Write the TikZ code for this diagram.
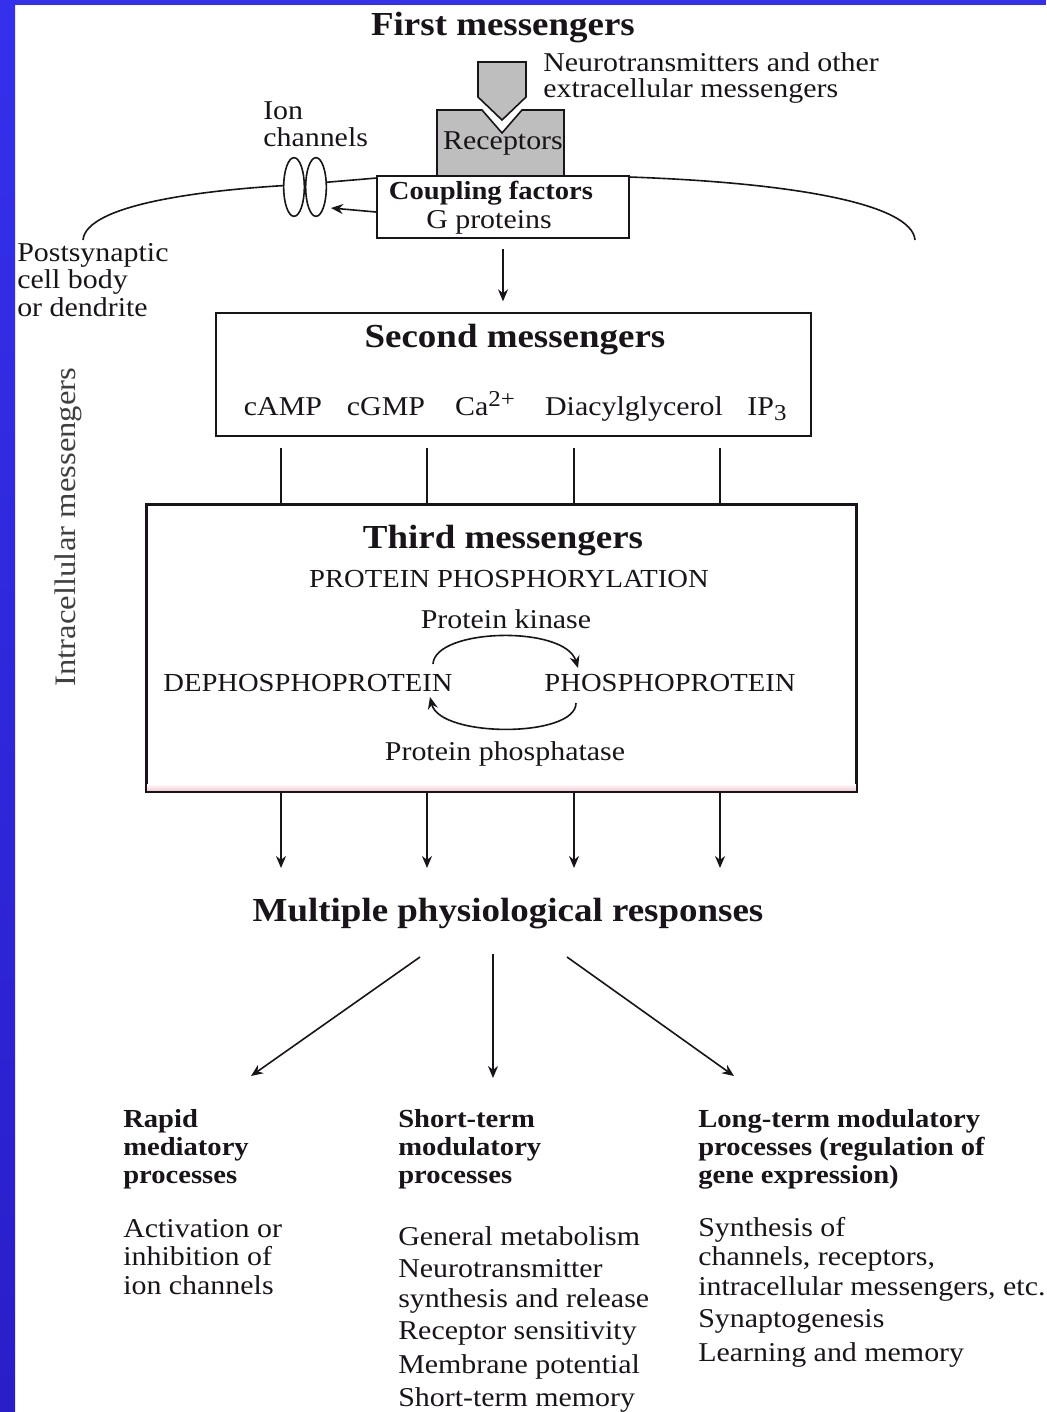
\documentclass[tikz,border=0pt]{standalone}
\usepackage{fontspec}
\setmainfont{Liberation Serif}[FakeStretch=1.1]
\usetikzlibrary{arrows.meta,shapes.geometric}
\definecolor{bluebar}{RGB}{52,48,236}
\definecolor{bluebar2}{RGB}{42,30,200}
\definecolor{recgray}{RGB}{190,190,190}
\definecolor{pinkstrip}{RGB}{242,192,204}
\definecolor{ink}{RGB}{25,20,25}
\begin{document}
\begin{tikzpicture}[x=0.75pt,y=-0.75pt,
  txt/.style={inner sep=0pt, text=ink, font=\fontsize{20.4}{24}\selectfont},
  capstxt/.style={inner sep=0pt, text=ink, font=\fontsize{19.5}{23}\selectfont},
  hd/.style={inner sep=0pt, text=ink, font=\fontsize{19.5}{23}\selectfont\bfseries},
  ttl/.style={inner sep=0pt, text=ink, font=\fontsize{25.2}{30}\selectfont\bfseries},
  box/.style={draw=ink, line width=1.5pt, fill=white, rectangle, inner sep=0pt},
  chan/.style={draw=ink, fill=white, ellipse, line width=1.2pt, minimum width=15.5pt, minimum height=44pt, inner sep=0pt},
  shapeline/.style={draw=ink, fill=recgray, line width=1.2pt, line join=miter},
  ln/.style={draw=ink, line width=1.2pt},
  arr/.style={draw=ink, line width=1.2pt, -{Stealth[length=9pt,width=7.5pt]}},
  ]
\useasboundingbox (0,0) rectangle (1046,1412);
\fill[white] (0,0) rectangle (1046,1412);
\shade[top color=bluebar, bottom color=bluebar2] (0,0) rectangle (15,1412);
\fill[bluebar] (0,0) rectangle (1046,5);

% first messengers
\node[ttl, anchor=base] (first) at (503,36) {First messengers};
\path[shapeline] (478,62) -- (526,62) -- (526,97) -- (502,120) -- (478,97) -- cycle;
\path[shapeline] (437,176) -- (437,110) -- (482,110) -- (502,133) -- (522,110) -- (564,110) -- (564,176) -- cycle;
\node[txt, anchor=base] (rec) at (503,150) {Receptors};
\node[txt, anchor=base west] (nt1) at (543,72) {Neurotransmitters and other};
\node[txt, anchor=base west] (nt2) at (543,98) {extracellular messengers};
\node[txt, anchor=base west] (ionA) at (263,120) {Ion};
\node[txt, anchor=base west] (ionB) at (263,147) {channels};

% membrane
\draw[ln] (83,240) .. controls (86,205) and (200,190) .. (294,185) -- (377,178);
\draw[ln] (629,177) .. controls (800,183) and (912,205) .. (915,240);
\node[chan] (ch1) at (294,187) {};
\node[chan] (ch2) at (316,187) {};

% coupling
\node[box, minimum width=189pt, minimum height=46.5pt] (coup) at (503,207) {};
\node[hd, anchor=base] (cf) at (491,200) {Coupling factors};
\node[txt, anchor=base] (gp) at (489,229) {G proteins};
\coordinate (chin) at (331,208);
\draw[arr] ([yshift=-3.75pt]coup.west) -- (chin);

\node[txt, anchor=base west] (ps1) at (17,262) {Postsynaptic};
\node[txt, anchor=base west] (ps2) at (17,289) {cell body};
\node[txt, anchor=base west] (ps3) at (17,316) {or dendrite};

\node[txt, rotate=90, font=\fontsize{22.3}{26}\selectfont, text=black!75] (intra) at (68,527) {Intracellular messengers};

% second messengers
\node[box, minimum width=446.25pt, minimum height=92.25pt] (second) at (513.5,374.5) {};
\draw[arr] ([yshift=-7.5pt]coup.south) -- ([yshift=8pt]coup.south |- second.north);
\node[ttl, anchor=base] (sm) at (515,348) {Second messengers};
\node[txt, anchor=base] (camp) at (283,415) {cAMP};
\node[txt, anchor=base] (cgmp) at (386,415) {cGMP};
\node[txt, anchor=base] (ca) at (485,415) {Ca\raisebox{0.33em}{\fontsize{17}{17}\selectfont 2+}};
\node[txt, anchor=base] (dag) at (634,415) {Diacylglycerol};
\node[txt, anchor=base] (ip) at (767,415) {IP\raisebox{-0.2em}{\fontsize{17}{17}\selectfont 3}};

% third messengers
\node[box, minimum width=531.75pt, minimum height=214.5pt] (third) at (501.5,648) {};
\shade[top color=white, bottom color=pinkstrip] ([yshift=6pt]third.south west) rectangle (third.south east);
\draw[ink, line width=1.5pt] (third.south west) rectangle (third.north east);
\foreach \i/\x in {1/281,2/427,3/574,4/720} {
  \coordinate (k\i) at (\x,448);
  \draw[ln] (k\i) -- (k\i |- third.north);
  \coordinate (e\i) at (\x,868);
  \draw[arr] (e\i |- third.south) -- (e\i);
}
\node[ttl, anchor=base] (tm) at (503,548) {Third messengers};
\node[capstxt, anchor=base] (pp) at (509,587) {PROTEIN PHOSPHORYLATION};
\node[txt, anchor=base] (pk) at (506,628) {Protein kinase};
\node[capstxt, anchor=base] (dep) at (308,691) {DEPHOSPHOPROTEIN};
\node[capstxt, anchor=base] (pho) at (670,691) {PHOSPHOPROTEIN};
\node[txt, anchor=base] (ppase) at (505,760) {Protein phosphatase};
\coordinate (c1) at (433,664);
\coordinate (c2) at (578,668);
\coordinate (c3) at (576,703);
\coordinate (c4) at (430,697);
\draw[arr] (c1) .. controls (435,628) and (565,625) .. (c2);
\draw[arr] (c3) .. controls (576,738) and (440,738) .. (c4);

% responses
\node[ttl, anchor=base] (mpr) at (508,921) {Multiple physiological responses};
\coordinate (r1s) at (420,957); \coordinate (r1e) at (251,1076);
\coordinate (r2s) at (493,954); \coordinate (r2e) at (493,1078);
\coordinate (r3s) at (567,957); \coordinate (r3e) at (734,1076);
\draw[arr] (r1s) -- (r1e);
\draw[arr] (r2s) -- (r2e);
\draw[arr] (r3s) -- (r3e);

% column 1
\node[hd, anchor=base west] (a1) at (123,1127) {Rapid};
\node[hd, anchor=base west] (a2) at (123,1155) {mediatory};
\node[hd, anchor=base west] (a3) at (123,1183) {processes};
\node[txt, anchor=base west] (a4) at (123,1237) {Activation or};
\node[txt, anchor=base west] (a5) at (123,1265) {inhibition of};
\node[txt, anchor=base west] (a6) at (123,1294) {ion channels};
% column 2
\node[hd, anchor=base west] (b1) at (398,1127) {Short-term};
\node[hd, anchor=base west] (b2) at (398,1155) {modulatory};
\node[hd, anchor=base west] (b3) at (398,1183) {processes};
\node[txt, anchor=base west] (b4) at (398,1245) {General metabolism};
\node[txt, anchor=base west] (b5) at (398,1277) {Neurotransmitter};
\node[txt, anchor=base west] (b6) at (398,1307) {synthesis and release};
\node[txt, anchor=base west] (b7) at (398,1339) {Receptor sensitivity};
\node[txt, anchor=base west] (b8) at (398,1373) {Membrane potential};
\node[txt, anchor=base west] (b9) at (398,1406) {Short-term memory};
% column 3
\node[hd, anchor=base west] (d1) at (698,1127) {Long-term modulatory};
\node[hd, anchor=base west] (d2) at (698,1155) {processes (regulation of};
\node[hd, anchor=base west] (d3) at (698,1183) {gene expression)};
\node[txt, anchor=base west] (d4) at (698,1236) {Synthesis of};
\node[txt, anchor=base west] (d5) at (698,1265) {channels, receptors,};
\node[txt, anchor=base west] (d6) at (698,1295) {intracellular messengers, etc.};
\node[txt, anchor=base west] (d7) at (698,1327) {Synaptogenesis};
\node[txt, anchor=base west] (d8) at (698,1361) {Learning and memory};
\end{tikzpicture}
\end{document}
